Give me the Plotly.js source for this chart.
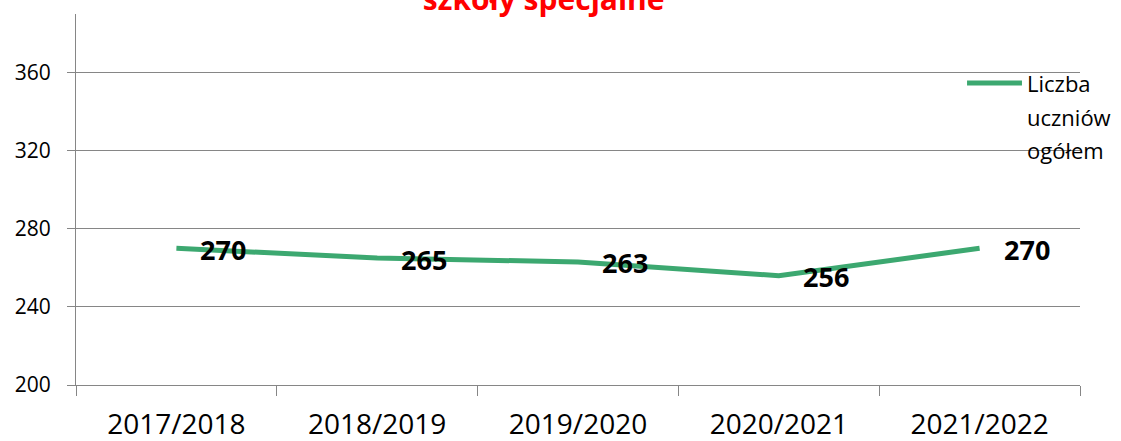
<!DOCTYPE html>
<html>
<head>
<meta charset="utf-8">
<script src="https://cdn.plot.ly/plotly-3.0.1.min.js"></script>
<style>html,body{margin:0;padding:0;background:#fff;}#chart{width:1121px;height:441px;}</style>
</head>
<body>
<div id="chart"></div>
<script>
const categories = ["2017/2018", "2018/2019", "2019/2020", "2020/2021", "2021/2022"];
const values = [270, 265, 263, 256, 270];
const seriesNameLines = ["Liczba", "uczniów", "ogółem"];
const titleText = "szkoły specjalne";
const yTicks = [200, 240, 280, 320, 360];

const FONT = "Open Sans, Noto Sans, Liberation Sans, sans-serif";
const green = "rgb(60,168,112)";
const grid = "rgb(134,134,134)";

const trace = {
  type: "scatter",
  mode: "lines",
  x: categories,
  y: values,
  name: seriesNameLines.join(" "),
  line: {color: green, width: 5},
  hoverinfo: "skip",
  showlegend: false
};

const annotations = categories.map((c, i) => ({
  x: c, y: values[i], xref: "x", yref: "y",
  text: String(values[i]),
  showarrow: false,
  xanchor: "center", yanchor: "middle",
  xshift: 47, yshift: -1,
  font: {family: FONT, size: 27, color: "#000", weight: "bold"}
}));

// legend drawn manually (paper coordinates) to match line spacing
const legendY = [0.814, 0.7224, 0.6334];
seriesNameLines.forEach((t, i) => annotations.push({
  xref: "paper", yref: "paper", x: 0.945, y: legendY[i],
  text: t, showarrow: false, xanchor: "left", yanchor: "middle",
  font: {family: FONT, size: 22, color: "#000"}
}));

const layout = {
  width: 1121, height: 441,
  margin: {l: 76, r: 41, t: 14, b: 56},
  paper_bgcolor: "#fff", plot_bgcolor: "#fff",
  showlegend: false,
  title: {
    text: "<b>" + titleText + "</b>",
    font: {family: FONT, size: 30, color: "rgb(255,0,0)"},
    x: 0.485, xanchor: "center",
    yref: "container", y: 1 - 10/441, yanchor: "bottom"
  },
  xaxis: {
    type: "category",
    range: [-0.5, 4.5],
    showline: true, linecolor: grid, linewidth: 1,
    ticks: "outside", tickson: "boundaries", ticklen: 10, tickcolor: grid,
    showgrid: false, zeroline: false,
    tickfont: {family: FONT, size: 28, color: "#000"},
    ticklabelstandoff: 14,
    fixedrange: true
  },
  yaxis: {
    range: [200, 390],
    tickvals: yTicks,
    ticktext: yTicks.map(String),
    showline: true, linecolor: grid, linewidth: 1,
    ticks: "outside", ticklen: 8, tickcolor: grid,
    showgrid: true, gridcolor: grid, gridwidth: 1,
    zeroline: false,
    tickfont: {family: FONT, size: 21, color: "#000"},
    ticklabelstandoff: 12,
    fixedrange: true
  },
  shapes: [{
    type: "line", xref: "paper", yref: "paper",
    x0: 0.8875, x1: 0.9422, y0: 0.814, y1: 0.814,
    line: {color: green, width: 5}
  }],
  annotations: annotations
};

Plotly.newPlot("chart", [trace], layout, {displayModeBar: false, staticPlot: true});
</script>
</body>
</html>
